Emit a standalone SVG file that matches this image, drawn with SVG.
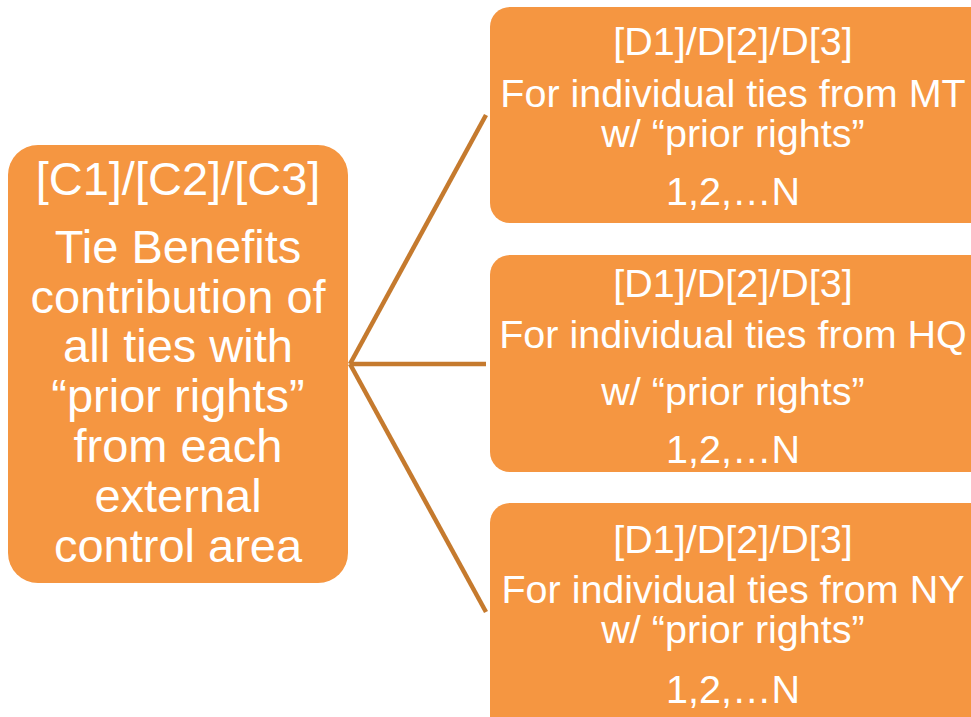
<svg xmlns="http://www.w3.org/2000/svg" width="971" height="717" viewBox="0 0 971 717">
<style>
.box{fill:#F59641;}
.t{fill:#FFFFFF;font-family:"Liberation Sans",Arial,sans-serif;text-anchor:middle;}
.l{font-size:47px;}
.r{font-size:39.5px;}
.c{stroke:#C57A2E;stroke-width:4.5;fill:none;stroke-linecap:butt;}
</style>
<rect width="971" height="717" fill="#FFFFFF"/>
<g id="connectors">
<line class="c" x1="350" y1="364" x2="486" y2="115"/>
<line class="c" x1="350" y1="364" x2="486" y2="364"/>
<line class="c" x1="350" y1="364" x2="486" y2="612"/>
</g>
<g id="node-c">
<rect class="box" x="8" y="145" width="340" height="438" rx="30" ry="30"/>
<text class="t l" x="178" y="195">[C1]/[C2]/[C3]</text>
<text class="t l" x="178" y="263">Tie Benefits</text>
<text class="t l" x="178" y="313">contribution of</text>
<text class="t l" x="178" y="362">all ties with</text>
<text class="t l" x="178" y="412">“prior rights”</text>
<text class="t l" x="178" y="462">from each</text>
<text class="t l" x="178" y="512">external</text>
<text class="t l" x="178" y="562">control area</text>
</g>
<g id="node-mt">
<rect class="box" x="490" y="7" width="500" height="216" rx="20" ry="20"/>
<text class="t r" x="733" y="55">[D1]/D[2]/D[3]</text>
<text class="t r" x="733" y="107">For individual ties from MT</text>
<text class="t r" x="733" y="147">w/ “prior rights”</text>
<text class="t r" x="733" y="205">1,2,…N</text>
</g>
<g id="node-hq">
<rect class="box" x="490" y="255" width="500" height="217" rx="20" ry="20"/>
<text class="t r" x="733" y="297">[D1]/D[2]/D[3]</text>
<text class="t r" x="733" y="348">For individual ties from HQ</text>
<text class="t r" x="733" y="405">w/ “prior rights”</text>
<text class="t r" x="733" y="463">1,2,…N</text>
</g>
<g id="node-ny">
<rect class="box" x="490" y="503" width="500" height="240" rx="20" ry="20"/>
<text class="t r" x="733" y="553">[D1]/D[2]/D[3]</text>
<text class="t r" x="733" y="603">For individual ties from NY</text>
<text class="t r" x="733" y="643">w/ “prior rights”</text>
<text class="t r" x="733" y="703">1,2,…N</text>
</g>
</svg>
